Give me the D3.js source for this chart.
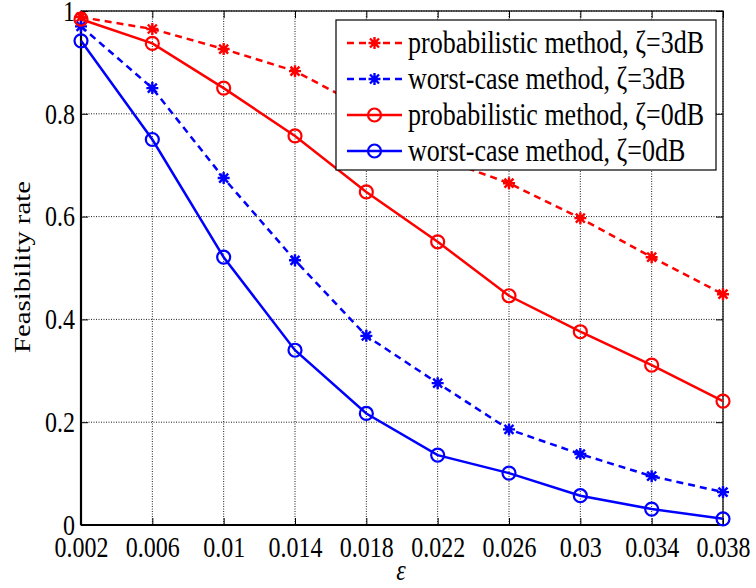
<!DOCTYPE html>
<html>
<head>
<meta charset="utf-8">
<script src="https://cdn.jsdelivr.net/npm/d3@7"></script>
<style>
  body { margin: 0; background: #fff; }
  svg { display: block; }
  text { font-family: "Liberation Serif", "Times New Roman", serif; fill: #000; }
</style>
</head>
<body>
<svg id="chart" width="756" height="588"></svg>
<script>
const epsilons = [0.002, 0.006, 0.01, 0.014, 0.018, 0.022, 0.026, 0.03, 0.034, 0.038];
const xTickLabels = ["0.002", "0.006", "0.01", "0.014", "0.018", "0.022", "0.026", "0.03", "0.034", "0.038"];
const yTicks = [0, 0.2, 0.4, 0.6, 0.8, 1];
const yTickLabels = ["0", "0.2", "0.4", "0.6", "0.8", "1"];

const probabilistic3dB = [0.988, 0.965, 0.926, 0.883, 0.81, 0.715, 0.665, 0.597, 0.521, 0.449];
const worstCase3dB     = [0.970, 0.850, 0.675, 0.515, 0.368, 0.276, 0.186, 0.138, 0.095, 0.064];
const probabilistic0dB = [0.984, 0.937, 0.850, 0.757, 0.648, 0.551, 0.446, 0.376, 0.311, 0.241];
const worstCase0dB     = [0.942, 0.750, 0.521, 0.340, 0.217, 0.136, 0.101, 0.057, 0.031, 0.012];

const seriesNames = [
  "probabilistic method, ζ=3dB",
  "worst-case method, ζ=3dB",
  "probabilistic method, ζ=0dB",
  "worst-case method, ζ=0dB"
];
const seriesValues = [probabilistic3dB, worstCase3dB, probabilistic0dB, worstCase0dB];
const seriesColors = ["#ff0000", "#0000ff", "#ff0000", "#0000ff"];
const seriesDashed = [true, true, false, false];
const seriesMarkers = ["star", "star", "circle", "circle"];

const svg = d3.select("#chart");
const m = { left: 81, right: 723, top: 11, bottom: 525 };
const x = d3.scaleLinear().domain([0.002, 0.038]).range([m.left, m.right]);
const y = d3.scaleLinear().domain([0, 1]).range([m.bottom, m.top]);
const W = m.right - m.left, H = m.bottom - m.top;
const STRETCH = 1.2;
const serif = '"Liberation Serif", "Times New Roman", serif';

// grid
const grid = svg.append("g");
grid.selectAll("line.gx").data(epsilons).join("line")
  .attr("x1", d => x(d)).attr("x2", d => x(d))
  .attr("y1", m.top).attr("y2", m.bottom)
  .attr("stroke", "#000").attr("stroke-width", 0.9).attr("stroke-dasharray", "1,1.5");
grid.selectAll("line.gy").data(yTicks).join("line")
  .attr("x1", m.left).attr("x2", m.right)
  .attr("y1", d => y(d)).attr("y2", d => y(d))
  .attr("stroke", "#000").attr("stroke-width", 0.9).attr("stroke-dasharray", "1,1.5");

// axes with inward ticks
const fontSize = 24;
const xAxis = d3.axisBottom(x).tickValues(epsilons).tickFormat((d, i) => xTickLabels[i]).tickSizeInner(-7).tickSizeOuter(0);
const gx = svg.append("g").attr("transform", `translate(0,${m.bottom})`).call(xAxis);
const yAxis = d3.axisLeft(y).tickValues(yTicks).tickFormat((d, i) => yTickLabels[i]).tickSizeInner(-7).tickSizeOuter(0);
const gy = svg.append("g").attr("transform", `translate(${m.left},0)`).call(yAxis);
const gxt = svg.append("g").attr("transform", `translate(0,${m.top})`).call(d3.axisTop(x).tickValues(epsilons).tickFormat("").tickSizeInner(-7).tickSizeOuter(0));
const gyr = svg.append("g").attr("transform", `translate(${m.right},0)`).call(d3.axisRight(y).tickValues(yTicks).tickFormat("").tickSizeInner(-7).tickSizeOuter(0));
[gx, gy, gxt, gyr].forEach(g => {
  g.attr("font-family", null);
  g.select(".domain").remove();
  g.selectAll(".tick line").attr("stroke", "#000").attr("stroke-width", 1);
  g.selectAll("text").style("font-family", serif).style("font-size", fontSize + "px").attr("fill", "#000");
});
gx.selectAll(".tick text").attr("y", 10).attr("dy", "0.71em").attr("transform", `scale(1,${STRETCH})`);
gy.selectAll(".tick text").attr("x", -6).attr("dy", "0.32em").attr("transform", `scale(1,${STRETCH})`);

// box
svg.append("rect").attr("x", m.left).attr("y", m.top).attr("width", W).attr("height", H)
  .attr("fill", "none").attr("stroke", "#000").attr("stroke-width", 1.2);
svg.append("line").attr("x1", m.left).attr("x2", m.right).attr("y1", m.bottom).attr("y2", m.bottom)
  .attr("stroke", "#000").attr("stroke-width", 2.2);
svg.append("line").attr("x1", m.left).attr("x2", m.left).attr("y1", m.top).attr("y2", m.bottom)
  .attr("stroke", "#000").attr("stroke-width", 2.2);

// markers
function drawMarker(g, type, cx, cy, color) {
  if (type === "circle") {
    g.append("circle").attr("cx", cx).attr("cy", cy).attr("r", 6.5)
      .attr("fill", "none").attr("stroke", color).attr("stroke-width", 2.2);
  } else {
    const r = 6;
    const d = r * 0.75;
    const p = `M${cx - r},${cy}L${cx + r},${cy}M${cx},${cy - r}L${cx},${cy + r}` +
              `M${cx - d},${cy - d}L${cx + d},${cy + d}M${cx - d},${cy + d}L${cx + d},${cy - d}`;
    g.append("path").attr("d", p).attr("stroke", color).attr("stroke-width", 2.4).attr("fill", "none");
    g.append("circle").attr("cx", cx).attr("cy", cy).attr("r", 2.5).attr("fill", color);
  }
}

const line = d3.line().x(d => x(d[0])).y(d => y(d[1]));
seriesValues.forEach((vals, si) => {
  const g = svg.append("g");
  const pts = epsilons.map((e, i) => [e, vals[i]]);
  g.append("path").datum(pts).attr("d", line)
    .attr("fill", "none").attr("stroke", seriesColors[si]).attr("stroke-width", 2.5)
    .attr("stroke-dasharray", seriesDashed[si] ? "7,5" : null);
  pts.forEach(p => drawMarker(g, seriesMarkers[si], x(p[0]), y(p[1]), seriesColors[si]));
});

// legend
const lg = svg.append("g");
lg.append("rect").attr("x", 336).attr("y", 20).attr("width", 380).attr("height", 150)
  .attr("fill", "#fff").attr("stroke", "#000").attr("stroke-width", 1.2);
seriesNames.forEach((name, i) => {
  const cy = 43 + i * 36;
  lg.append("line").attr("x1", 347).attr("x2", 402).attr("y1", cy).attr("y2", cy)
    .attr("stroke", seriesColors[i]).attr("stroke-width", 2.5)
    .attr("stroke-dasharray", seriesDashed[i] ? "7,5" : null);
  drawMarker(lg, seriesMarkers[i], 374.5, cy, seriesColors[i]);
  lg.append("text").attr("transform", `translate(408,${cy}) scale(1,${STRETCH})`)
    .attr("dy", "0.32em").style("font-size", "26px").text(name);
});

// axis labels
svg.append("text").attr("transform", `translate(30,267) rotate(-90) scale(${STRETCH},1)`)
  .attr("text-anchor", "middle").style("font-size", "24px").text("Feasibility rate");
svg.append("text").attr("transform", `translate(401,580) scale(1,${STRETCH})`).attr("text-anchor", "middle")
  .style("font-size", "24px").style("font-style", "italic").text("ε");
</script>
</body>
</html>
